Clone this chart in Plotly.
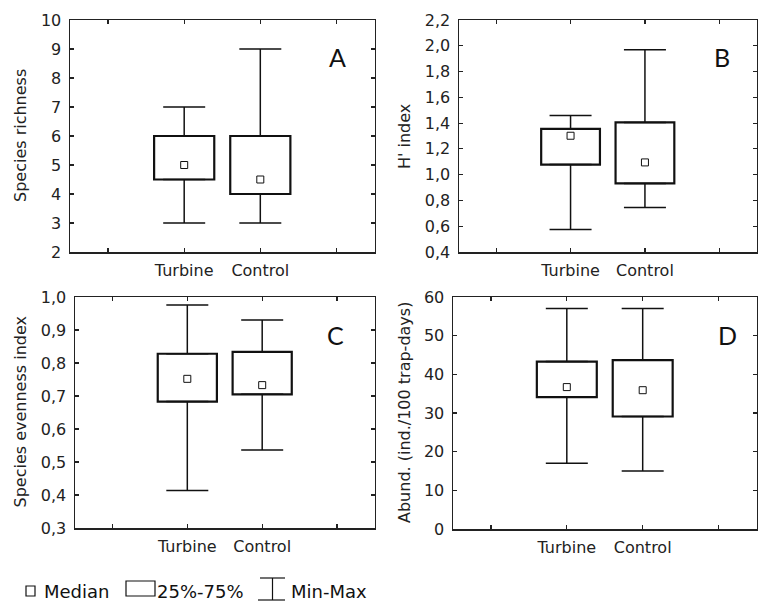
import plotly.graph_objects as go

W, H = 759, 601

categories = ["Turbine", "Control"]

# Panel A: species richness
a_min = [3, 3]
a_q1 = [4.5, 4.0]
a_med = [5.0, 4.5]
a_q3 = [6.0, 6.0]
a_max = [7, 9]

# Panel B: H' index
b_min = [0.575, 0.745]
b_q1 = [1.078, 0.932]
b_med = [1.302, 1.095]
b_q3 = [1.356, 1.405]
b_max = [1.46, 1.97]

# Panel C: species evenness index
c_min = [0.414, 0.536]
c_q1 = [0.683, 0.705]
c_med = [0.752, 0.733]
c_q3 = [0.828, 0.834]
c_max = [0.976, 0.930]

# Panel D: abundance
d_min = [17, 15]
d_q1 = [34.1, 29.1]
d_med = [36.7, 35.9]
d_q3 = [43.3, 43.7]
d_max = [57, 57]

panels = [
    dict(name="A", title="Species richness", mn=a_min, q1=a_q1, med=a_med, q3=a_q3, mx=a_max,
         yrange=[2, 10], dtick=1, fmt="d"),
    dict(name="B", title="H' index", mn=b_min, q1=b_q1, med=b_med, q3=b_q3, mx=b_max,
         yrange=[0.4, 2.2], dtick=0.2, fmt=".1f"),
    dict(name="C", title="Species evenness index", mn=c_min, q1=c_q1, med=c_med, q3=c_q3, mx=c_max,
         yrange=[0.3, 1.0], dtick=0.1, fmt=".1f"),
    dict(name="D", title="Abund. (ind./100 trap-days)", mn=d_min, q1=d_q1, med=d_med, q3=d_q3, mx=d_max,
         yrange=[0, 60], dtick=10, fmt="d"),
]

# plot frames in pixels: (left, right, top, bottom)
frames = [
    (70, 374.5, 20, 252),
    (459, 756.5, 20, 252),
    (75, 374.5, 297, 528),
    (453, 756.5, 297, 529),
]
title_x = [20, 404, 20, 405]
letter_pos = [(337, 57), (722, 57), (335, 335), (727, 335)]

FONT = "DejaVu Sans"
fig = go.Figure()
layout = dict(
    width=W, height=H,
    margin=dict(l=0, r=0, t=0, b=0, pad=0, autoexpand=False),
    paper_bgcolor="white", plot_bgcolor="white",
    showlegend=False,
    separators=", ",
    font=dict(family=FONT, size=16, color="#222"),
    annotations=[], shapes=[],
)

xpos = [i + 1 for i in range(len(categories))]

for i, p in enumerate(panels):
    n = "" if i == 0 else str(i + 1)
    xa, ya = "x" + n, "y" + n
    l, r, t, b = frames[i]
    layout["xaxis" + n] = dict(
        domain=[l / W, r / W], anchor=ya, range=[-0.5, 3.5],
        tickvals=[0, 1, 2, 3], ticktext=["", categories[0], categories[1], ""],
        ticks="inside", ticklen=4, tickwidth=1.2, tickcolor="#222",
        showline=True, linecolor="#222", linewidth=1.5, mirror="ticks",
        showgrid=False, zeroline=False, fixedrange=True, automargin=False,
        tickfont=dict(family=FONT, size=16, color="#222"),
        ticklabelstandoff=3,
    )
    layout["yaxis" + n] = dict(
        domain=[1 - b / H, 1 - t / H], anchor=xa, range=p["yrange"],
        dtick=p["dtick"], tick0=p["yrange"][0], tickformat=p["fmt"],
        ticks="inside", ticklen=4, tickwidth=1.2, tickcolor="#222",
        showline=True, linecolor="#222", linewidth=1.5, mirror="ticks",
        showgrid=False, zeroline=False, fixedrange=True, automargin=False,
        tickfont=dict(family=FONT, size=16, color="#222"),
        ticklabelstandoff=4,
    )
    # box (25%-75%)
    fig.add_trace(go.Bar(
        x=xpos, y=[q3 - q1 for q1, q3 in zip(p["q1"], p["q3"])], base=p["q1"],
        width=0.79, marker=dict(color="white", line=dict(color="#111", width=2.2)),
        xaxis=xa, yaxis=ya, hoverinfo="skip",
    ))
    # upper whisker
    fig.add_trace(go.Scatter(
        x=xpos, y=p["q3"], mode="markers", marker=dict(size=1, opacity=0),
        error_y=dict(type="data", symmetric=False,
                     array=[mx - q3 for mx, q3 in zip(p["mx"], p["q3"])],
                     arrayminus=[0] * len(xpos), width=21, thickness=1.5, color="#111"),
        xaxis=xa, yaxis=ya, hoverinfo="skip",
    ))
    # lower whisker
    fig.add_trace(go.Scatter(
        x=xpos, y=p["q1"], mode="markers", marker=dict(size=1, opacity=0),
        error_y=dict(type="data", symmetric=False,
                     array=[0] * len(xpos),
                     arrayminus=[q1 - mn for q1, mn in zip(p["q1"], p["mn"])],
                     width=21, thickness=1.5, color="#111"),
        xaxis=xa, yaxis=ya, hoverinfo="skip",
    ))
    # median
    fig.add_trace(go.Scatter(
        x=xpos, y=p["med"], mode="markers",
        marker=dict(symbol="square", size=7, color="white", line=dict(color="#111", width=1)),
        xaxis=xa, yaxis=ya, hoverinfo="skip",
    ))
    # y axis title
    layout["annotations"].append(dict(
        text=p["title"], xref="paper", yref="paper",
        x=title_x[i] / W, y=1 - ((t + b) / 2) / H, textangle=-90,
        showarrow=False, xanchor="center", yanchor="middle",
        font=dict(family=FONT, size=16, color="#222"),
    ))
    # panel letter
    lx, ly = letter_pos[i]
    layout["annotations"].append(dict(
        text=p["name"], xref="paper", yref="paper", x=lx / W, y=1 - ly / H,
        showarrow=False, xanchor="center", yanchor="middle",
        font=dict(family="Lato", size=25, color="#111"),
    ))

# legend (drawn as key)
def px(x):
    return x / W

def py(y):
    return 1 - y / H

layout["shapes"] += [
    dict(type="rect", xref="paper", yref="paper", x0=px(26), x1=px(35), y0=py(596), y1=py(586),
         line=dict(color="#111", width=1.2), fillcolor="white"),
    dict(type="rect", xref="paper", yref="paper", x0=px(126), x1=px(155), y0=py(596), y1=py(581),
         line=dict(color="#111", width=1.2), fillcolor="white"),
    dict(type="line", xref="paper", yref="paper", x0=px(260), x1=px(285), y0=py(578), y1=py(578),
         line=dict(color="#111", width=1.2)),
    dict(type="line", xref="paper", yref="paper", x0=px(272.5), x1=px(272.5), y0=py(578), y1=py(600),
         line=dict(color="#111", width=1.2)),
    dict(type="line", xref="paper", yref="paper", x0=px(258), x1=px(285), y0=py(600), y1=py(600),
         line=dict(color="#111", width=1.2)),
]
for txt, x0 in [("Median", 42), ("25%-75%", 155), ("Min-Max", 289)]:
    layout["annotations"].append(dict(
        text=txt, xref="paper", yref="paper", x=px(x0), y=py(591),
        showarrow=False, xanchor="left", yanchor="middle",
        font=dict(family=FONT, size=18, color="#111"),
    ))

fig.update_layout(**layout)
fig.write_html(
    "out.html",
    config={"displayModeBar": False, "staticPlot": True},
    post_script="document.body.style.margin='0';document.body.style.overflow='hidden';",
)
